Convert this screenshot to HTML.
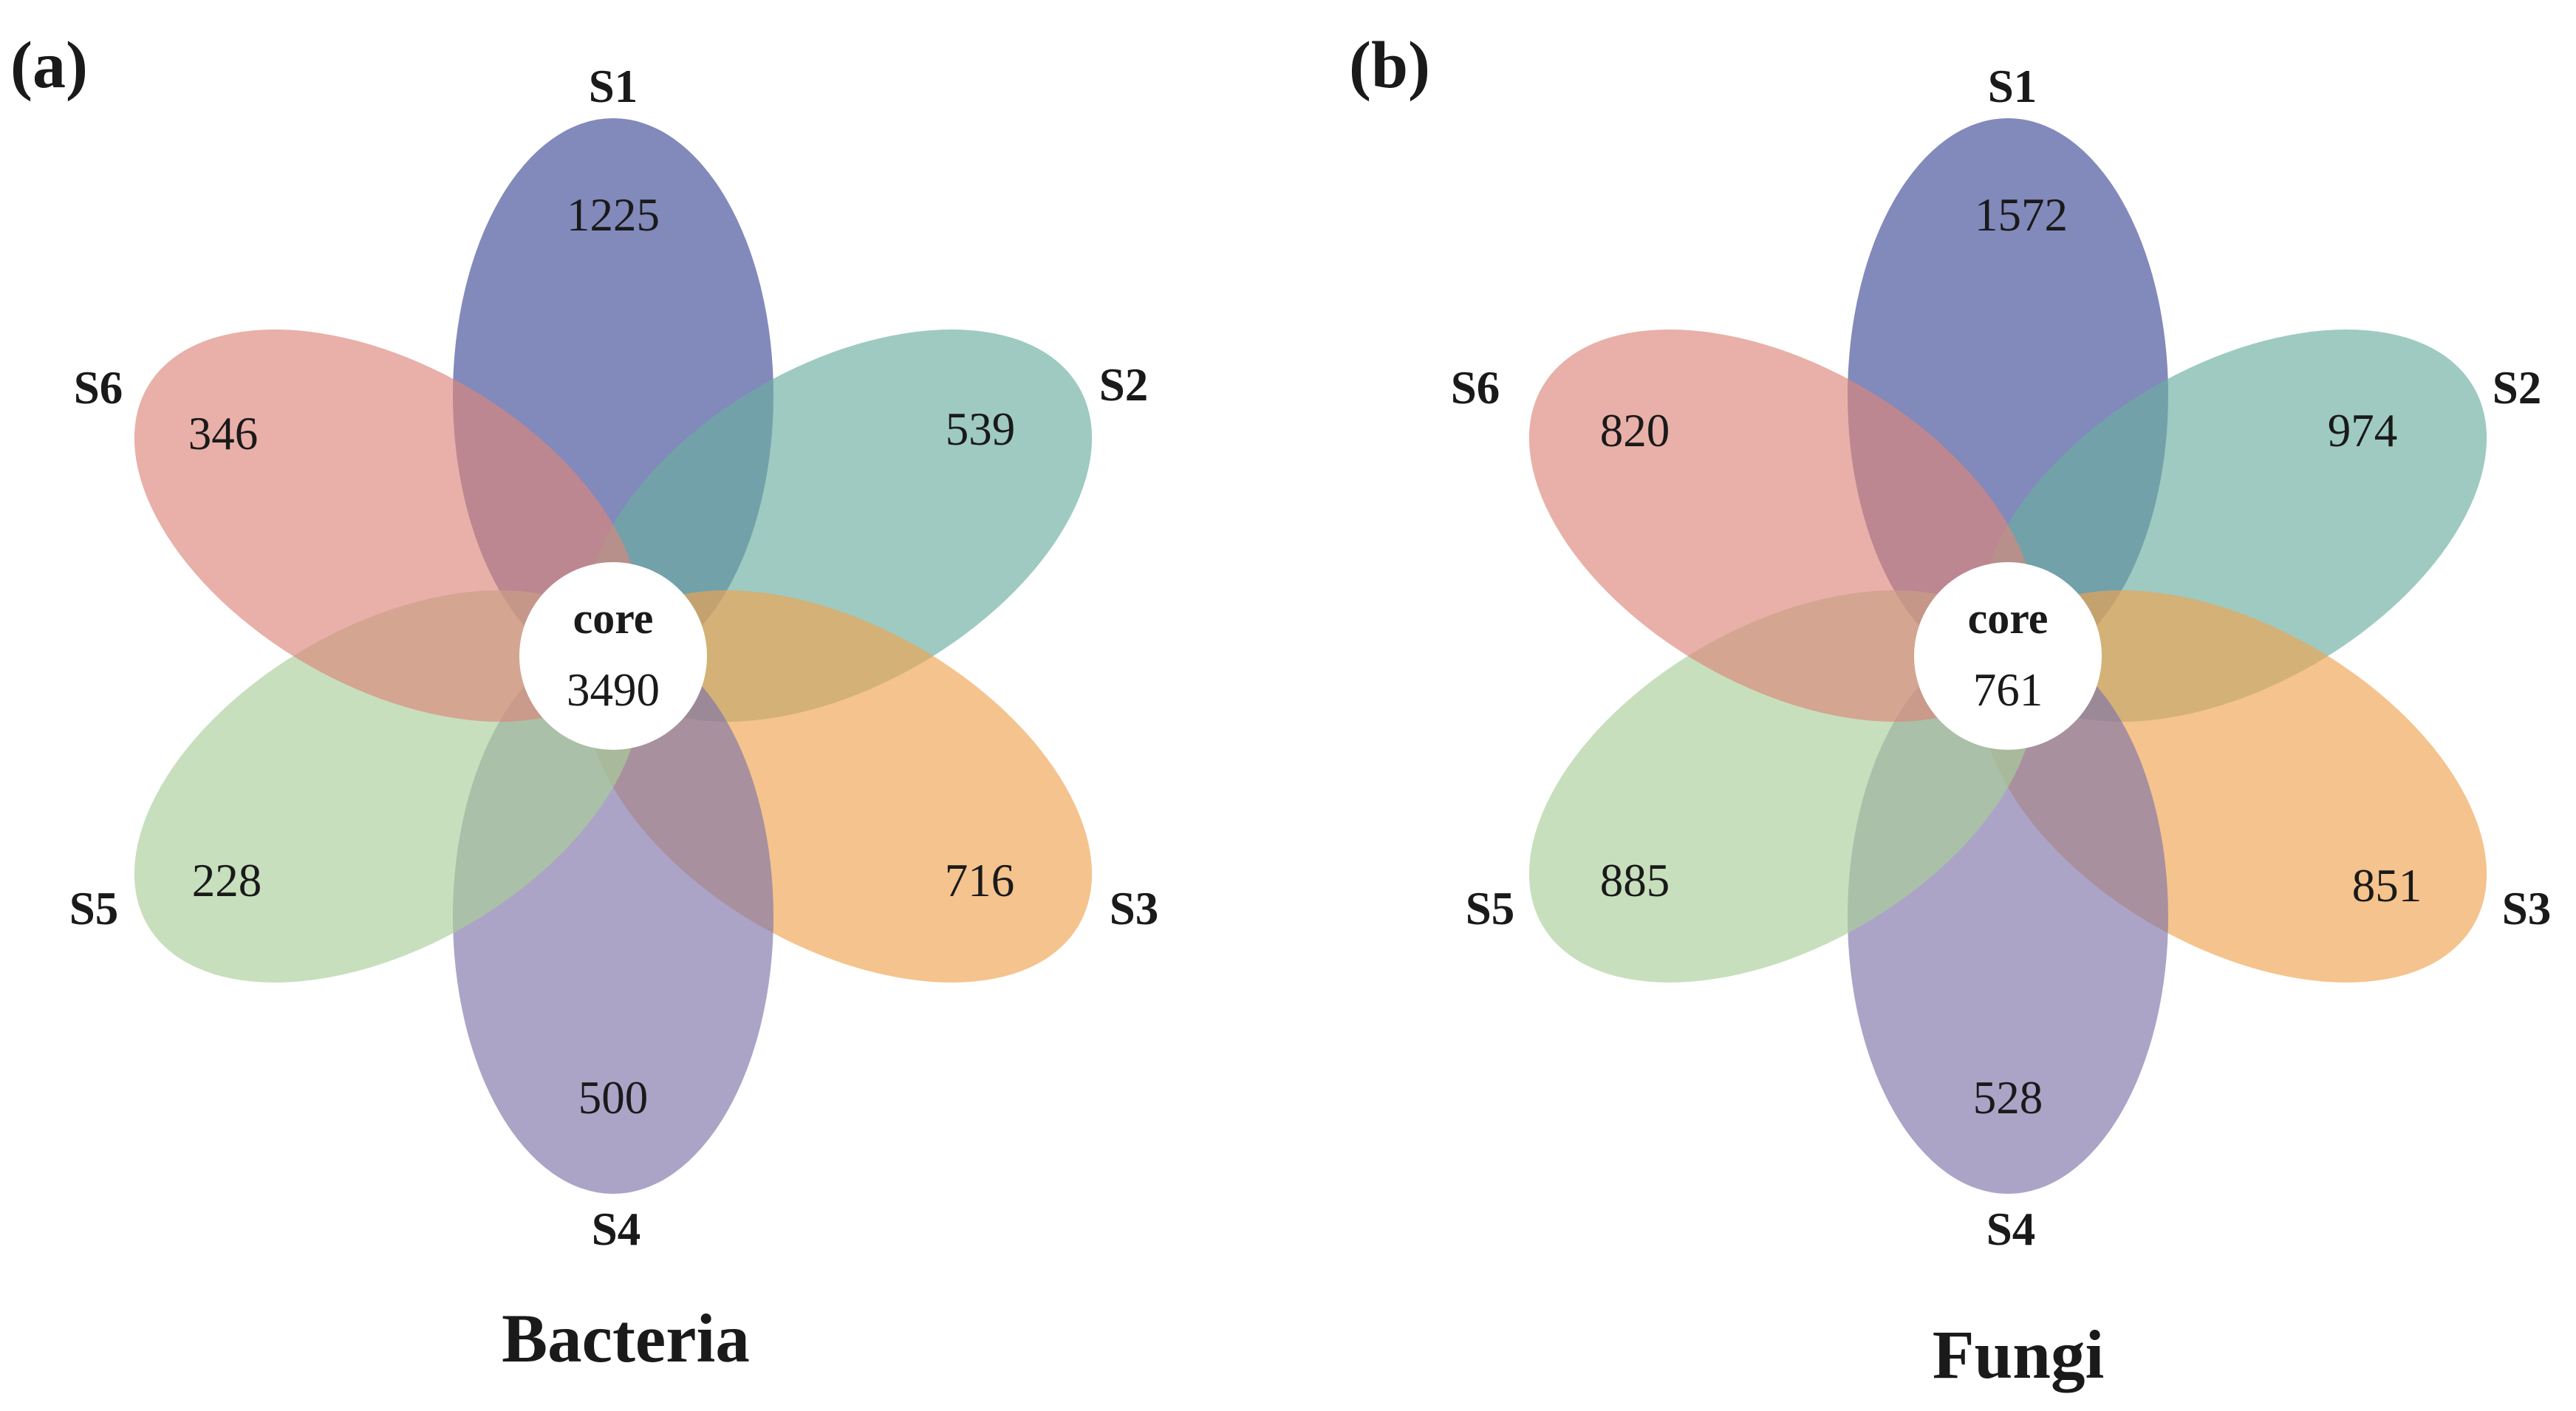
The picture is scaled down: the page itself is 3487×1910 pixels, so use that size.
<!DOCTYPE html>
<html><head><meta charset="utf-8"><style>
html,body{margin:0;padding:0;background:#fff;}
svg{display:block;}
text{font-family:"Liberation Serif",serif;fill:#1a1a1a;}
.n{font-size:63px;text-anchor:middle;}
.l{font-size:63px;font-weight:bold;text-anchor:middle;}
.c{font-size:60px;font-weight:bold;text-anchor:middle;}
.t{font-size:93px;font-weight:bold;text-anchor:middle;}
.p{font-size:90px;font-weight:bold;}
</style></head><body>
<svg width="3487" height="1910" viewBox="0 0 3487 1910" xmlns="http://www.w3.org/2000/svg">
<defs>
<g id="flower">
<g opacity="0.65">
<ellipse cx="0" cy="-353" rx="217" ry="375" fill="rgb(63,74,150)" transform="rotate(0)"/>
</g>
<g opacity="0.65"><ellipse cx="0" cy="-353" rx="217" ry="375" fill="rgb(107,175,161)" transform="rotate(60)"/></g>
<g opacity="0.65"><ellipse cx="0" cy="-353" rx="217" ry="375" fill="rgb(240,164,81)" transform="rotate(120)"/></g>
<g opacity="0.65"><ellipse cx="0" cy="-353" rx="217" ry="375" fill="rgb(127,117,170)" transform="rotate(180)"/></g>
<g opacity="0.65"><ellipse cx="0" cy="-353" rx="217" ry="375" fill="rgb(170,207,153)" transform="rotate(240)"/></g>
<g opacity="0.65"><ellipse cx="0" cy="-353" rx="217" ry="375" fill="rgb(220,135,123)" transform="rotate(300)"/></g>
<circle cx="0" cy="0" r="127" fill="#fff"/>
</g>
</defs>
<use href="#flower" transform="translate(830,888)"/>
<use href="#flower" transform="translate(2718,888)"/>

<text class="p" x="14" y="118">(a)</text>
<text class="p" x="1826" y="118">(b)</text>

<!-- left -->
<text class="c" x="830" y="857">core</text>
<text class="n" x="830" y="955">3490</text>
<text class="l" x="830" y="138">S1</text>
<text class="l" x="1521" y="542">S2</text>
<text class="l" x="1535" y="1251">S3</text>
<text class="l" x="834" y="1685">S4</text>
<text class="l" x="127" y="1251">S5</text>
<text class="l" x="133" y="546">S6</text>
<text class="n" x="830" y="312">1225</text>
<text class="n" x="1327" y="602">539</text>
<text class="n" x="1326" y="1213">716</text>
<text class="n" x="830" y="1507">500</text>
<text class="n" x="307" y="1213">228</text>
<text class="n" x="302" y="608">346</text>
<text class="t" x="847" y="1843">Bacteria</text>

<!-- right -->
<text class="c" x="2718" y="857">core</text>
<text class="n" x="2718" y="955">761</text>
<text class="l" x="2724" y="138">S1</text>
<text class="l" x="3407" y="546">S2</text>
<text class="l" x="3420" y="1251">S3</text>
<text class="l" x="2722" y="1685">S4</text>
<text class="l" x="2017" y="1251">S5</text>
<text class="l" x="1997" y="546">S6</text>
<text class="n" x="2736" y="312">1572</text>
<text class="n" x="3198" y="604">974</text>
<text class="n" x="3231" y="1220">851</text>
<text class="n" x="2718" y="1507">528</text>
<text class="n" x="2213" y="1213">885</text>
<text class="n" x="2213" y="604">820</text>
<text class="t" x="2732" y="1865">Fungi</text>
</svg>
</body></html>
